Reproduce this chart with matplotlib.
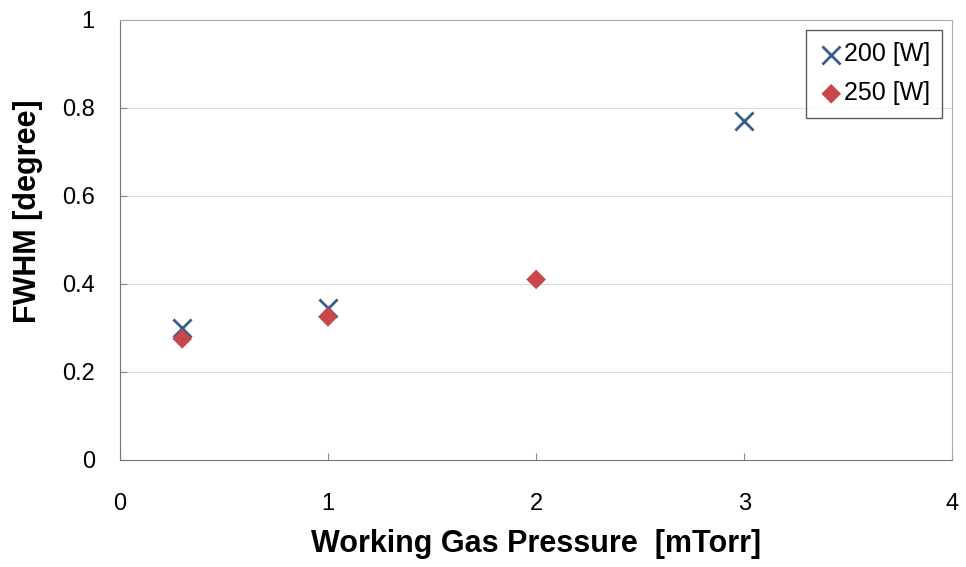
import matplotlib.pyplot as plt

plt.rcParams['font.family'] = ['Liberation Sans', 'DejaVu Sans']

# values
p_200 = [0.3, 1.0, 3.0]
fwhm_200 = [0.30, 0.345, 0.77]
p_250 = [0.3, 1.0, 2.0]
fwhm_250 = [0.275, 0.325, 0.41]

xticks = [0, 1, 2, 3, 4]
yticks = [0, 0.2, 0.4, 0.6, 0.8, 1]
ytick_labels = ['0', '0.2', '0.4', '0.6', '0.8', '1']

fig = plt.figure(figsize=(9.66, 5.67), dpi=100)
ax = fig.add_axes([0.124, 0.189, 0.862, 0.776])

ax.scatter(p_200, fwhm_200, marker='x', s=170, color='#3b5d87', linewidths=2, label='200 [W]', zorder=3)
ax.scatter(p_250, fwhm_250, marker='D', s=100, color='#c8474a', edgecolors='none', label='250 [W]', zorder=3)

ax.set_xlim(0, 4)
ax.set_ylim(0, 1)
ax.set_xticks(xticks)
ax.set_yticks(yticks)
ax.set_yticklabels(ytick_labels)
ax.tick_params(direction='in', length=5, width=0.8, color='#888888', labelsize=17)
ax.tick_params(axis='y', pad=18)
ax.tick_params(axis='x', pad=24)

for y in yticks[1:-1]:
    ax.axhline(y, color='#dcdcdc', linewidth=0.8, zorder=1)

for side in ['left', 'bottom']:
    ax.spines[side].set_color('#777777')
for side in ['top', 'right']:
    ax.spines[side].set_color('#aaaaaa')

ax.set_xlabel('Working Gas Pressure  [mTorr]', fontsize=22, fontweight='bold', labelpad=10)
ax.set_ylabel('FWHM [degree]', fontsize=22, fontweight='bold')
ax.yaxis.set_label_coords(-0.092, 0.565)

leg = ax.legend(loc='upper right', fontsize=18, frameon=True, fancybox=False,
                handletextpad=0.0, handlelength=1.0, borderpad=0.5, labelspacing=0.6,
                borderaxespad=0.4)
leg.get_frame().set_edgecolor('#333333')
leg.get_frame().set_linewidth(1.0)

fig.savefig('out.png', dpi=100)
